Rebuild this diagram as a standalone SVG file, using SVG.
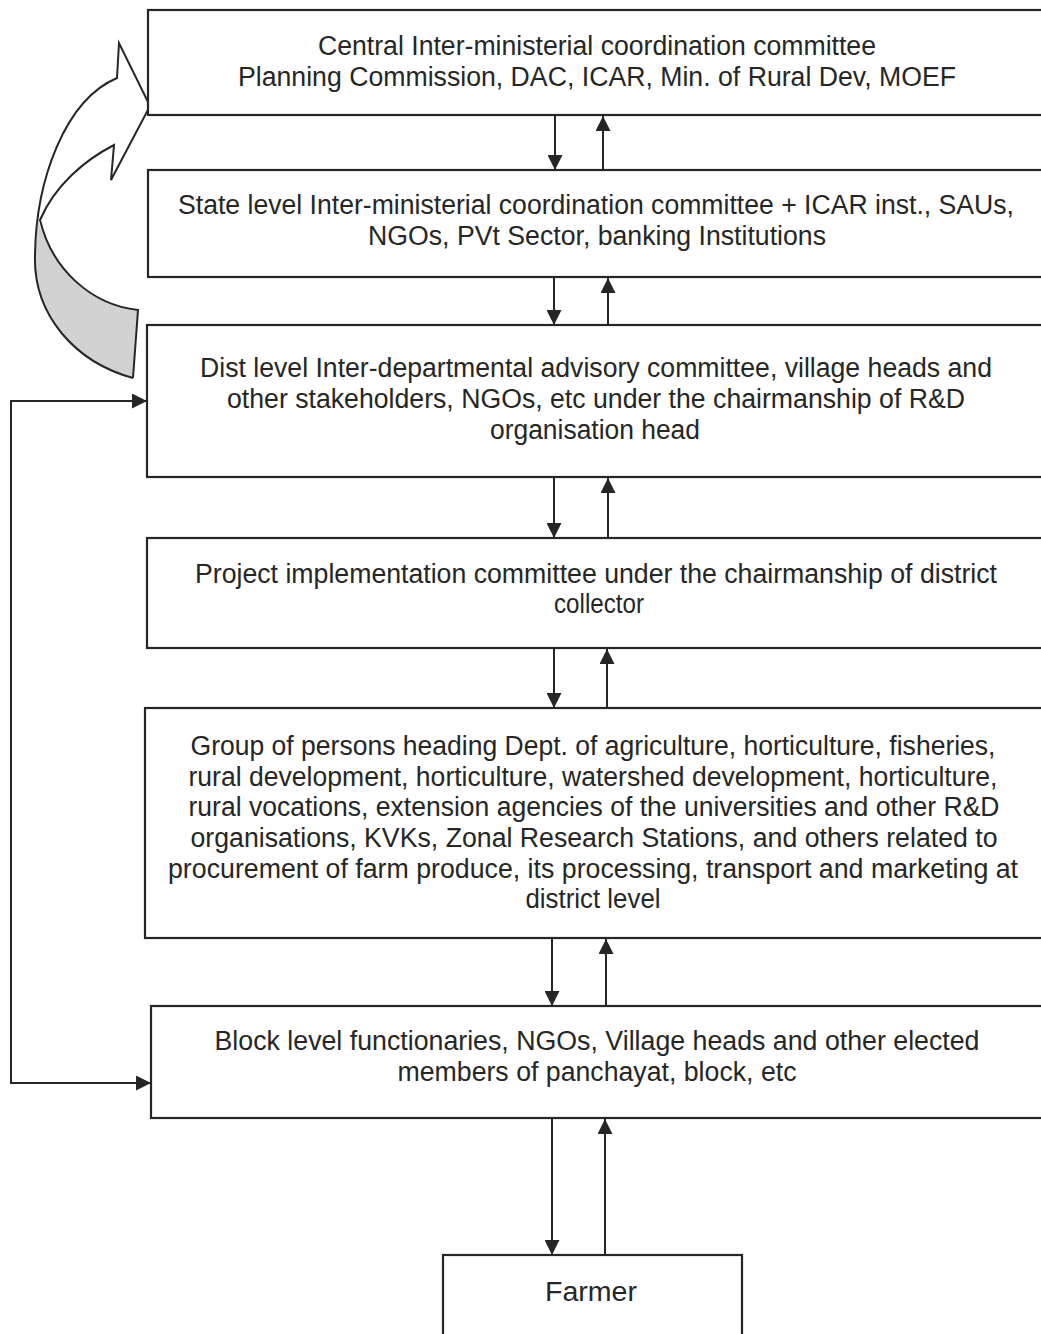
<svg xmlns="http://www.w3.org/2000/svg" width="1041" height="1334" viewBox="0 0 1041 1334">
<style>
.box{fill:#ffffff;stroke:#262626;stroke-width:2.2}
.t{font-family:"Liberation Sans",Arial,sans-serif;font-size:27px;fill:#262626;text-anchor:middle}
.c{fill:none;stroke:#262626;stroke-width:2}
</style>
<defs>
<marker id="ah" viewBox="0 0 15 15" refX="15" refY="7.5" markerWidth="15" markerHeight="15" markerUnits="userSpaceOnUse" orient="auto">
<path d="M0,0 L15,7.5 L0,15 Z" fill="#262626"/>
</marker>
</defs>
<rect width="1041" height="1334" fill="#ffffff"/>

<g id="connectors">
<line class="c" x1="555" y1="116" x2="555" y2="170" marker-end="url(#ah)"/>
<line class="c" x1="603" y1="170" x2="603" y2="116" marker-end="url(#ah)"/>
<line class="c" x1="554" y1="278" x2="554" y2="325" marker-end="url(#ah)"/>
<line class="c" x1="608" y1="325" x2="608" y2="278" marker-end="url(#ah)"/>
<line class="c" x1="554" y1="478" x2="554" y2="538" marker-end="url(#ah)"/>
<line class="c" x1="608" y1="538" x2="608" y2="478" marker-end="url(#ah)"/>
<line class="c" x1="554" y1="649" x2="554" y2="708" marker-end="url(#ah)"/>
<line class="c" x1="607" y1="708" x2="607" y2="649" marker-end="url(#ah)"/>
<line class="c" x1="552" y1="939" x2="552" y2="1006" marker-end="url(#ah)"/>
<line class="c" x1="606" y1="1006" x2="606" y2="939" marker-end="url(#ah)"/>
<line class="c" x1="552" y1="1119" x2="552" y2="1255" marker-end="url(#ah)"/>
<line class="c" x1="605" y1="1255" x2="605" y2="1119" marker-end="url(#ah)"/>
<path class="c" d="M11,1083 L151,1083" marker-end="url(#ah)"/>
<path class="c" d="M11,1084 L11,401 L147,401" marker-end="url(#ah)"/>
<g id="curved-arrow">
<path d="M133,378 C75,362 33,315 35,255 C36,180 65,100 117,78 L119,43 L150,106 L111,180 L114,145 C85,160 55,185 40,220 C52,270 92,305 138,310 Z" fill="#ffffff" stroke="none"/>
<path d="M133,378 C75,362 33,315 35,255 L38,220 C52,270 92,305 138,310 Z" fill="#d2d2d2" stroke="none"/>
<path d="M133,378 C75,362 33,315 35,255 C36,180 65,100 117,78 L119,43 L150,106 L111,180 L114,145 C85,160 55,185 40,220 C52,270 92,305 138,310 L133,378" fill="none" stroke="#262626" stroke-width="2" stroke-linejoin="miter"/>
</g>
</g>

<g id="central">
<rect class="box" x="148" y="10" width="920" height="105"/>
<text class="t" x="597" y="55" textLength="558" lengthAdjust="spacingAndGlyphs">Central Inter-ministerial coordination committee</text>
<text class="t" x="597" y="86" textLength="718" lengthAdjust="spacingAndGlyphs">Planning Commission, DAC, ICAR, Min. of Rural Dev, MOEF</text>
</g>

<g id="state">
<rect class="box" x="148" y="170" width="920" height="107"/>
<text class="t" x="596" y="214" textLength="836" lengthAdjust="spacingAndGlyphs">State level Inter-ministerial coordination committee + ICAR inst., SAUs,</text>
<text class="t" x="597" y="245" textLength="458" lengthAdjust="spacingAndGlyphs">NGOs, PVt Sector, banking Institutions</text>
</g>

<g id="district">
<rect class="box" x="147" y="325" width="920" height="152"/>
<text class="t" x="596" y="377" textLength="792" lengthAdjust="spacingAndGlyphs">Dist level Inter-departmental advisory committee, village heads and</text>
<text class="t" x="596" y="408" textLength="738" lengthAdjust="spacingAndGlyphs">other stakeholders, NGOs, etc under the chairmanship of R&amp;D</text>
<text class="t" x="595" y="439" textLength="210" lengthAdjust="spacingAndGlyphs">organisation head</text>
</g>

<g id="project">
<rect class="box" x="147" y="538" width="920" height="110"/>
<text class="t" x="596" y="583" textLength="802" lengthAdjust="spacingAndGlyphs">Project implementation committee under the chairmanship of district</text>
<text class="t" x="599" y="613" textLength="90" lengthAdjust="spacingAndGlyphs">collector</text>
</g>

<g id="group">
<rect class="box" x="145" y="708" width="920" height="230"/>
<text class="t" x="593" y="755" textLength="805" lengthAdjust="spacingAndGlyphs">Group of persons heading Dept. of agriculture, horticulture, fisheries,</text>
<text class="t" x="593" y="786" textLength="809" lengthAdjust="spacingAndGlyphs">rural development, horticulture, watershed development, horticulture,</text>
<text class="t" x="594" y="816" textLength="811" lengthAdjust="spacingAndGlyphs">rural vocations, extension agencies of the universities and other R&amp;D</text>
<text class="t" x="594" y="847" textLength="807" lengthAdjust="spacingAndGlyphs">organisations, KVKs, Zonal Research Stations, and others related to</text>
<text class="t" x="593" y="878" textLength="850" lengthAdjust="spacingAndGlyphs">procurement of farm produce, its processing, transport and marketing at</text>
<text class="t" x="593" y="908" textLength="135" lengthAdjust="spacingAndGlyphs">district level</text>
</g>

<g id="block">
<rect class="box" x="151" y="1006" width="920" height="112"/>
<text class="t" x="597" y="1050" textLength="765" lengthAdjust="spacingAndGlyphs">Block level functionaries, NGOs, Village heads and other elected</text>
<text class="t" x="597" y="1081" textLength="399" lengthAdjust="spacingAndGlyphs">members of panchayat, block, etc</text>
</g>

<g id="farmer">
<rect class="box" x="443" y="1255" width="299" height="100"/>
<text class="t" x="591" y="1301" textLength="92" lengthAdjust="spacingAndGlyphs">Farmer</text>
</g>
</svg>
